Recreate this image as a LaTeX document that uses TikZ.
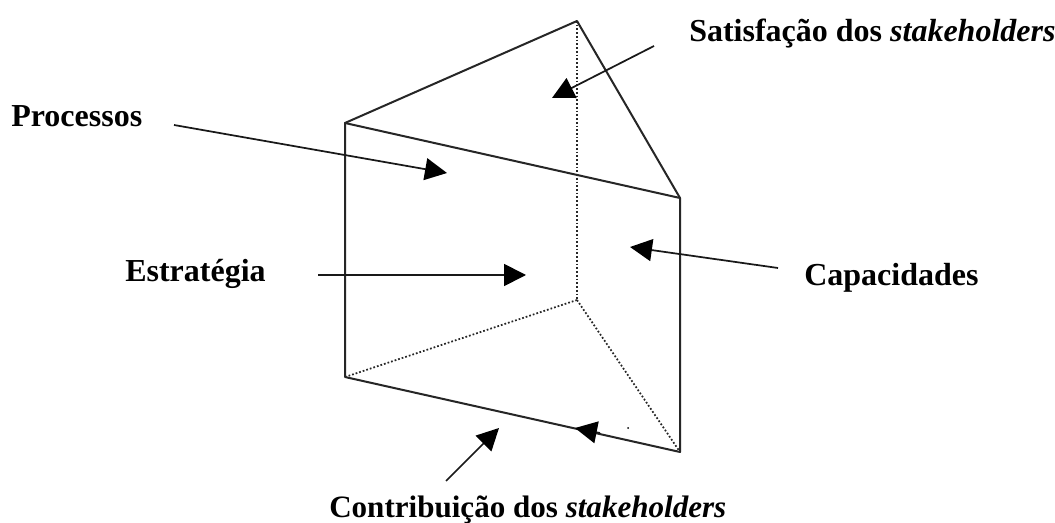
\documentclass[tikz,border=0pt]{standalone}
\usepackage{fontspec}
\setmainfont{Liberation Serif}
\usetikzlibrary{arrows.meta}
\tikzset{
 edge/.style={line width=1.5pt,black!85,line cap=round,line join=round},
 hidden/.style={line width=1.3pt,black!85,dash pattern=on 1.3pt off 1.5pt},
 pointer/.style={line width=1.3pt,black!90,-{Triangle[length=16.5pt,width=16.5pt,color=black]}},
 lbl/.style={font=\bfseries\fontsize{24}{28}\selectfont,inner sep=0pt,anchor=base west,text=black}
}
\begin{document}
\begin{tikzpicture}[x=0.75pt,y=-0.75pt]
\useasboundingbox (0,0) rectangle (1055,523);
\fill[white] (0,0) rectangle (1055,523);
\coordinate (A) at (345,123);
\coordinate (B) at (577,21);
\coordinate (C) at (680,198);
\coordinate (D) at (345,377);
\coordinate (E) at (680,452);
\coordinate (F) at (577,300);
\draw[hidden] (B)--(F);
\draw[hidden] (D)--(F);
\draw[hidden] (F)--(E);
\draw[edge] (D)--(A)--(B)--(C)--(E)--(D);
\draw[edge] (A)--(C);
\node[lbl] (p) at (11,127) {Processos};
\node[lbl] (s) at (689,42) {Satisfação dos \textit{stakeholders}};
\node[lbl] (e) at (125,282) {Estratégia};
\node[lbl] (c) at (804,286) {Capacidades};
\node[lbl,font=\bfseries\fontsize{23.3}{27}\selectfont] (k) at (329,517.5) {Contribuição dos \textit{stakeholders}};
\coordinate (p0) at (174,125); \coordinate (p1) at (447,173);
\coordinate (s0) at (654,46); \coordinate (s1) at (552,98);
\coordinate (e0) at (318,275); \coordinate (e1) at (526,275);
\coordinate (c0) at (778,268); \coordinate (c1) at (630,247);
\coordinate (k0) at (446,481); \coordinate (k1) at (499,428);
\coordinate (m0) at (600,433); \coordinate (m1) at (575,428);
\draw[pointer] (p0)--(p1);
\draw[pointer] (s0)--(s1);
\draw[pointer] (e0)--(e1);
\draw[pointer] (c0)--(c1);
\draw[pointer] (k0)--(k1);
\draw[pointer] (m0)--(m1);
\fill (628,428) circle (1);
\end{tikzpicture}
\end{document}
